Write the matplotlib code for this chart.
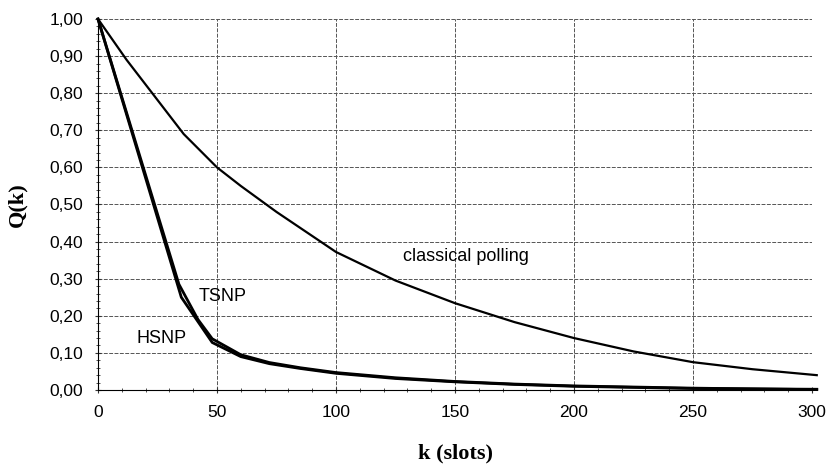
import matplotlib
matplotlib.use("Agg")
from matplotlib import pyplot as plt
from matplotlib.ticker import MultipleLocator, FuncFormatter

# classical polling
k_cp = [0, 12, 24, 36, 50, 60, 75, 100, 125, 150, 175, 200, 225, 250, 275, 302]
q_cp = [1.00, 0.89, 0.79, 0.69, 0.60, 0.55, 0.48, 0.372, 0.295, 0.234, 0.183,
        0.140, 0.104, 0.075, 0.056, 0.040]

# TSNP
k_ts = [0, 34, 42, 48, 60, 72, 85, 100, 125, 150, 175, 200, 225, 250, 275, 302]
q_ts = [1.00, 0.285, 0.19, 0.138, 0.095, 0.074, 0.060, 0.047, 0.033, 0.023,
        0.016, 0.011, 0.008, 0.005, 0.003, 0.002]

# HSNP
k_hs = [0, 35, 48, 60, 72, 85, 100, 125, 150, 175, 200, 225, 250, 275, 302]
q_hs = [1.00, 0.25, 0.128, 0.090, 0.071, 0.058, 0.045, 0.031, 0.022, 0.015,
        0.010, 0.007, 0.004, 0.003, 0.001]

labels = [("classical polling", 154.6, 0.361),
          ("TSNP", 52.5, 0.251),
          ("HSNP", 26.7, 0.140)]


def main():
    fig = plt.figure(figsize=(8.32, 4.69), dpi=100)
    ax = fig.add_axes([98 / 832, 1 - 390 / 469, 714 / 832, 371 / 469])

    ax.plot(k_cp, q_cp, '-', color='black', lw=1.6, clip_on=False)
    ax.plot(k_ts, q_ts, '-', color='black', lw=2.0, clip_on=False)
    ax.plot(k_hs, q_hs, '-', color='black', lw=2.0, clip_on=False)

    for txt, x, y in labels:
        ax.text(x, y, txt, ha='center', va='center', fontsize=13,
                family='Liberation Sans')

    ax.set_xlim(0, 300)
    ax.set_ylim(0, 1.0)
    ax.xaxis.set_major_locator(MultipleLocator(50))
    ax.xaxis.set_minor_locator(MultipleLocator(10))
    ax.yaxis.set_major_locator(MultipleLocator(0.1))
    ax.yaxis.set_minor_locator(MultipleLocator(0.02))
    ax.yaxis.set_major_formatter(FuncFormatter(lambda v, p: f"{v:.2f}".replace('.', ',')))

    ax.grid(True, which='major', color='#555555', lw=0.7, ls=(0, (4, 1.5)))
    ax.spines['top'].set_visible(False)
    ax.spines['right'].set_visible(False)
    ax.tick_params(which='both', direction='inout', color='#333333')
    ax.tick_params(which='major', length=5, labelsize=12.5, pad=8)
    ax.tick_params(which='minor', length=3)
    for lab in ax.get_xticklabels() + ax.get_yticklabels():
        lab.set_family('Liberation Sans')

    ax.set_xlabel('k (slots)', family='Liberation Serif', fontweight='bold',
                  fontsize=16, labelpad=17)
    ax.set_ylabel('Q(k)', family='Liberation Serif', fontweight='bold',
                  fontsize=16, labelpad=16)

    plt.savefig("out.png", dpi=100)


if __name__ == '__main__':
    main()
